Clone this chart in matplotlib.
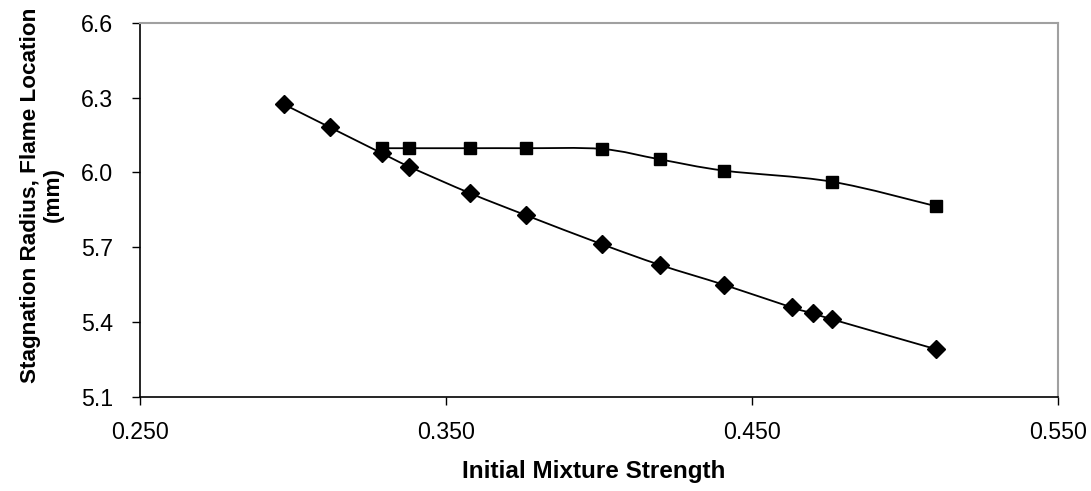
import numpy as np
import matplotlib
matplotlib.use("Agg")
import matplotlib.pyplot as plt
from matplotlib.path import Path
from matplotlib.patches import PathPatch

# Data
strength_flame = [0.297, 0.312, 0.329, 0.338, 0.358, 0.376, 0.401,
                  0.420, 0.441, 0.463, 0.470, 0.476, 0.510]
flame_location = [6.273, 6.181, 6.077, 6.023, 5.916, 5.829, 5.712,
                  5.629, 5.549, 5.459, 5.435, 5.412, 5.292]

strength_stag = [0.329, 0.338, 0.358, 0.376, 0.401, 0.420, 0.441, 0.476, 0.510]
stagnation_radius = [6.097, 6.097, 6.097, 6.097, 6.094, 6.052, 6.007, 5.963, 5.865]

x_ticks = [0.25, 0.35, 0.45, 0.55]
y_ticks = [5.1, 5.4, 5.7, 6.0, 6.3, 6.6]


def smooth_path(x, y):
    # Excel-style smoothed line (Catmull-Rom as cubic Bezier segments)
    p = np.column_stack([x, y])
    n = len(p)
    verts = [p[0]]
    codes = [Path.MOVETO]
    for i in range(n - 1):
        p0 = p[i - 1] if i > 0 else p[i]
        p3 = p[i + 2] if i + 2 < n else p[i + 1]
        c1 = p[i] + (p[i + 1] - p0) / 6
        c2 = p[i + 1] - (p3 - p[i]) / 6
        verts += [c1, c2, p[i + 1]]
        codes += [Path.CURVE4] * 3
    return Path(verts, codes)


plt.rcParams['font.family'] = ['Liberation Sans', 'DejaVu Sans']

fig = plt.figure(figsize=(10.91, 4.91), dpi=100)
ax = fig.add_axes([0.1283, 0.1914, 0.8415, 0.7624])

for xs, ys, mk, ms in [(strength_flame, flame_location, 'D', 8.7),
                       (strength_stag, stagnation_radius, 's', 8.3)]:
    ax.add_patch(PathPatch(smooth_path(xs, ys), fill=False,
                           edgecolor='black', lw=1.3, zorder=2))
    ax.plot(xs, ys, linestyle='none', marker=mk, markersize=ms,
            color='black', zorder=3)

ax.set_xlim(0.25, 0.55)
ax.set_ylim(5.1, 6.6)
ax.set_xticks(x_ticks)
ax.set_xticklabels([f"{v:.3f}" for v in x_ticks])
ax.set_yticks(y_ticks)
ax.set_yticklabels([f"{v:.1f}" for v in y_ticks])
ax.tick_params(direction='out', length=6, width=1, labelsize=16.7)
ax.tick_params(axis='y', pad=13.5)
ax.tick_params(axis='x', pad=11)

for s in ['top', 'right']:
    ax.spines[s].set_color('#a0a0a0')
    ax.spines[s].set_linewidth(1.5)
for s in ['left', 'bottom']:
    ax.spines[s].set_color('black')
    ax.spines[s].set_linewidth(1.2)

ax.set_xlabel('Initial Mixture Strength', fontsize=17.5, fontweight='bold')
ax.xaxis.set_label_coords(0.494, -0.168)
ax.set_ylabel('Stagnation Radius, Flame Location\n(mm)', fontsize=16.2,
              fontweight='bold', linespacing=1.1)
ax.yaxis.set_label_coords(-0.083, 0.54)

fig.savefig('out.png', dpi=100)
